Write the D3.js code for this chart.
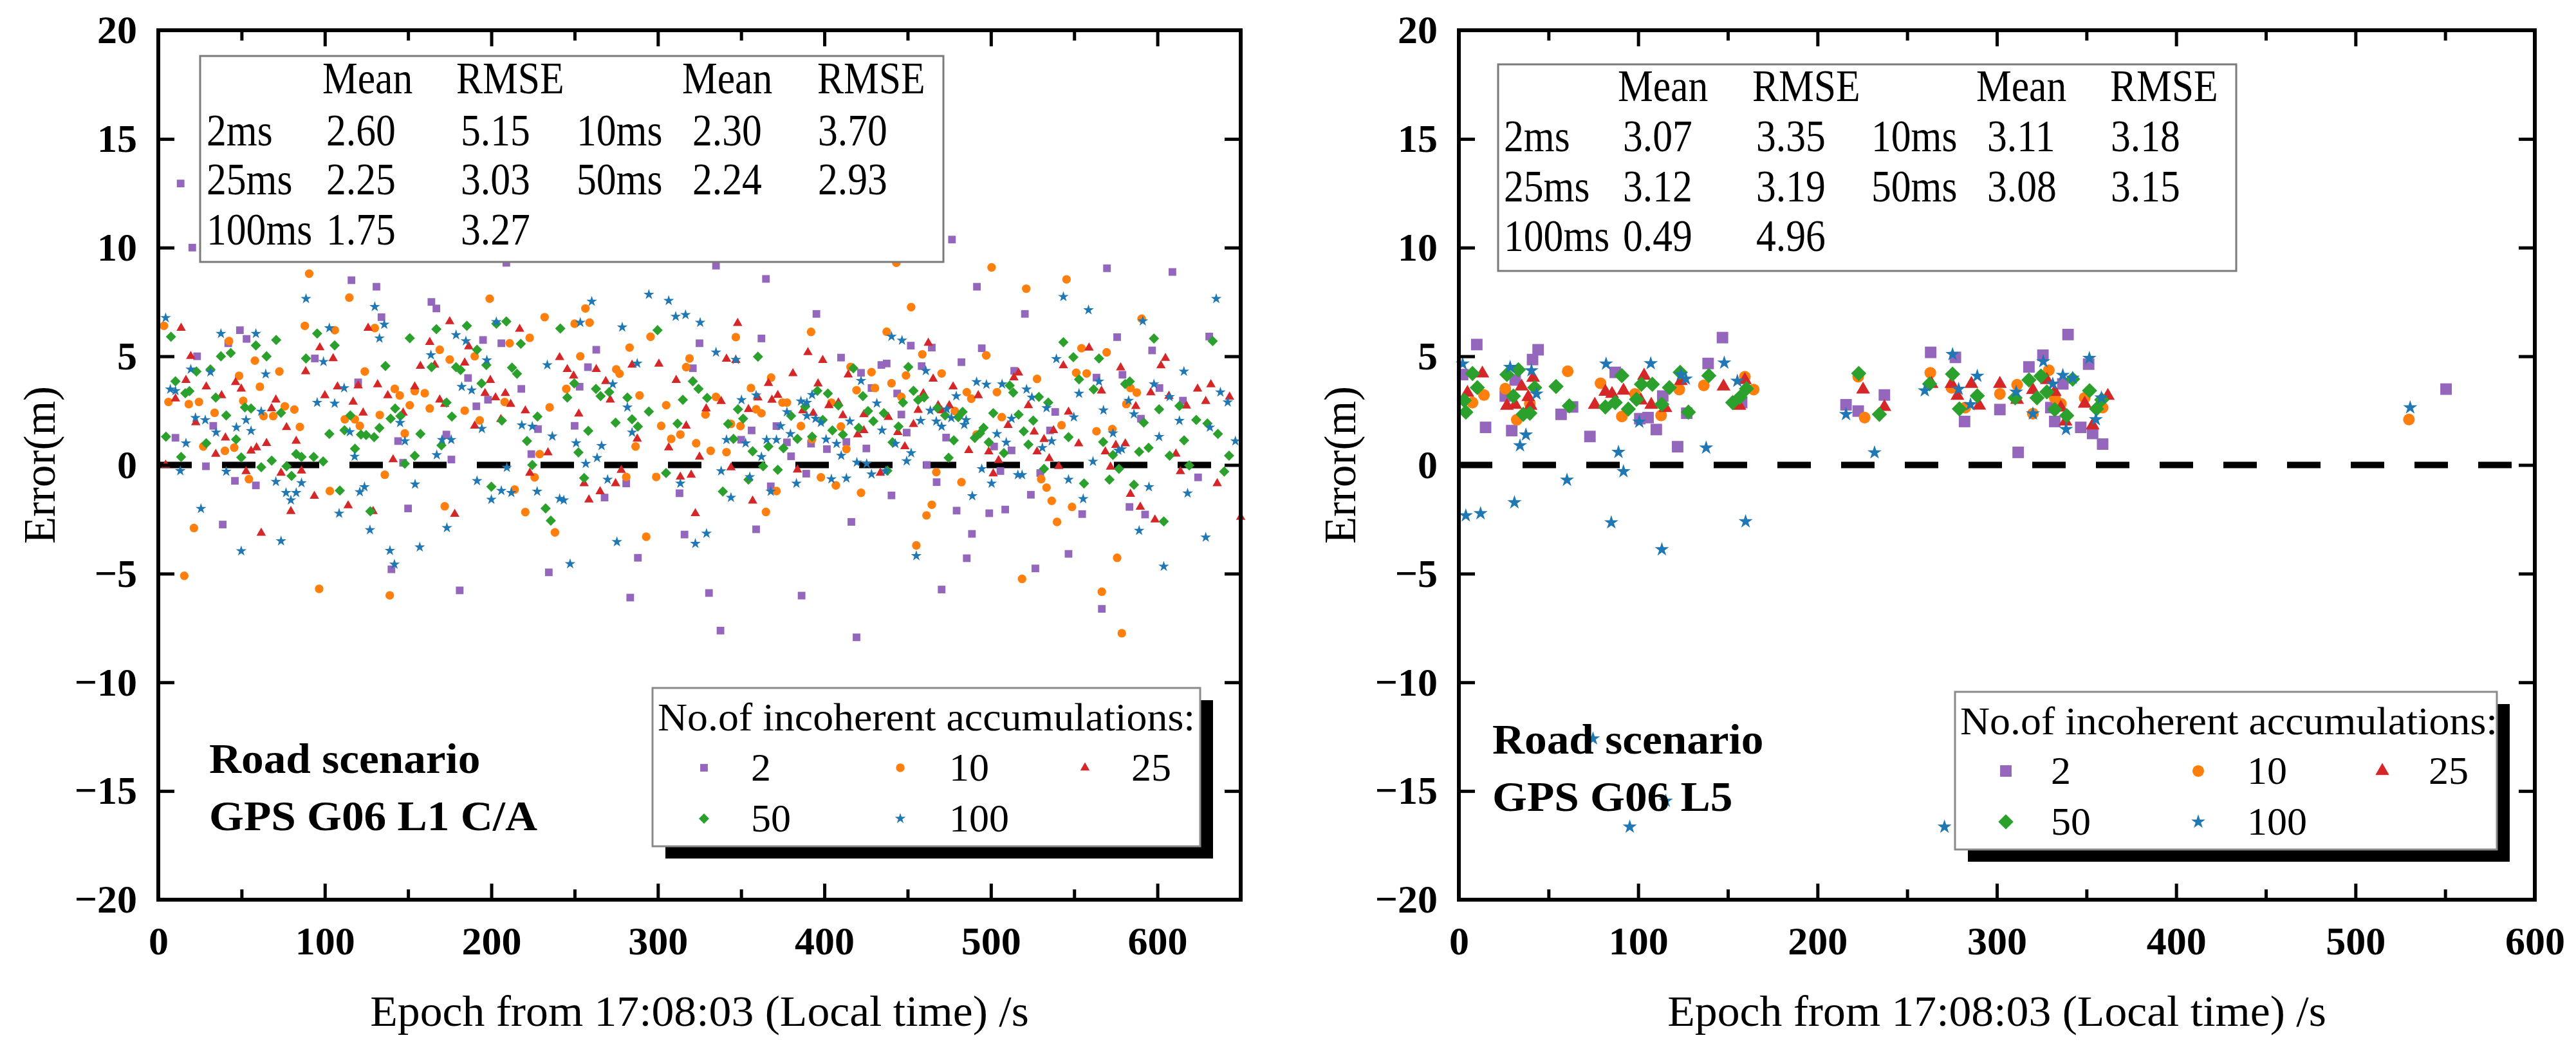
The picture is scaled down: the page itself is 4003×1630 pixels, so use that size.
<!DOCTYPE html>
<html>
<head>
<meta charset="utf-8">
<script src="https://cdn.jsdelivr.net/npm/d3@7"></script>
<style>
  body { margin: 0; background: #fff; }
</style>
</head>
<body>
<div id="chart"></div>
<script>
// ---- data: [epoch s, error m] ----
let seriesNames = ["2", "10", "25", "50", "100"];
let xTicksLeft = [0, 100, 200, 300, 400, 500, 600];
let xTicksRight = [0, 100, 200, 300, 400, 500, 600];
let yTicks = [-20, -15, -10, -5, 0, 5, 10, 15, 20];

// left panel, GPS G06 L1 C/A
let l1_2 = [[13.4,12.95],[20.4,10.0],[116,8.5],[131,8.2],[134,6.8],[164,7.5],[167,7.2],[49,6.2],[53,5.8],[42,5.6],[23.3,5.0],[195,5.75],[206,5.6],[209,9.3],[263,5.3],[258,4.5],[321,4.45],[325,5.6],[94,4.9],[120,3.8],[186,4.0],[218,3.5],[253,3.6],[191,2.7],[198,3.0],[33,1.8],[10.3,1.25],[144,1.1],[173,1.4],[228,1.65],[250,1.8],[224,0.5],[176,0.25],[147,0.1],[28.6,-0.06],[46,-0.73],[58.6,-0.94],[281,-0.85],[268,-1.5],[313,-1.3],[150,-2.0],[38.7,-2.74],[316,-3.2],[288,-4.27],[234.5,-4.94],[140,-4.8],[181,-5.77],[283.4,-6.1],
  [334.9,9.17],[364.9,8.56],[491.6,8.2],[569.7,9.05],[609,8.88],[520.4,6.95],[395.2,6.95],[362.2,5.82],[575.8,5.88],[596.8,5.27],[631.1,5.91],[451.9,5.49],[464.5,5.4],[494.5,5.37],[410,4.94],[434.2,4.6],[437.4,4.67],[458.4,4.55],[482.3,4.73],[422,4.24],[428.3,3.54],[514,4.33],[563.4,4.02],[579,4.15],[601.2,3.54],[615.3,2.96],[443.7,3.29],[446.2,2.32],[371.2,1.79],[356.3,1.59],[350,1.16],[449.4,1.49],[473.1,1.26],[538.6,2.44],[535.5,1.59],[590.1,2.13],[377.5,1.04],[392,0.98],[413.2,1.06],[401.5,0.73],[425.2,0.76],[380,0.4],[512.4,0.67],[501.9,0.85],[505.7,-0.28],[461.5,0],[529.6,-0.37],[389.1,-0.4],[367.8,-0.98],[467.4,-0.79],[440.3,-1.4],[524,-1.37],[624.4,-0.57],[583.2,-1.93],[592.6,-2.28],[554.8,-2.26],[479.4,-2.1],[499,-2.22],[508.6,-2.05],[416.2,-2.62],[359,-2.96],[488.6,-3.17],[485.5,-4.29],[546.6,-4.09],[526.7,-4.76],[470.4,-5.73],[330.7,-5.89],[386.3,-6.01],[566.6,-6.62],[337.6,-7.62],[419.3,-7.93],[476.6,10.37]];
let l1_10 = [[90.6,8.8],[114.7,7.7],[199,7.65],[88,6.4],[106,6.2],[130,6.3],[3.4,6.4],[42.5,5.7],[232,6.8],[250,6.5],[259,6.55],[256.5,7.2],[295.6,5.9],[283,5.4],[319,4.9],[317,4.5],[58,4.8],[48.5,4.1],[72.7,4.3],[124,4.3],[169,5.3],[175,4.85],[190,5.0],[223,5.85],[211,5.6],[253.4,5.0],[275,4.4],[277,4.2],[245,3.5],[289,3.2],[61,3.6],[6.1,2.9],[18.3,2.8],[24.4,2.9],[33.8,2.4],[51,2.95],[76,2.7],[81.7,2.55],[63.2,2.25],[69,2.25],[85,1.75],[112,2.1],[118,2.1],[121,1.8],[133,2.3],[142,3.5],[145,3.2],[154,3.4],[160,3.3],[151,2.75],[163,2.6],[184,2.5],[193,2.05],[208,2.9],[235,2.65],[305,2.75],[302,1.8],[308,1.2],[313.5,1.4],[323,1.0],[286.6,0.85],[148,1.45],[27,0.85],[40,0.65],[45.6,0.8],[229,0.5],[226,-0.57],[281,-0.55],[299,-0.55],[54.4,-0.65],[136,-0.45],[103,-1.2],[214,-1.13],[172,-1.9],[220.4,-2.17],[238.2,-3.1],[293,-3.3],[21.4,-2.9],[15.6,-5.1],[96.6,-5.7],[139,-6.0],
  [500.4,9.09],[545.4,8.54],[521.2,8.11],[452.1,7.26],[392,6.12],[346.8,5.88],[437.4,6.13],[458.8,5.09],[497.2,5.04],[590.5,6.73],[554.4,5.37],[551.2,4.24],[557.5,4.21],[569.5,5.18],[583.8,3.54],[587.6,3.33],[581.3,2.8],[470.4,4.21],[449,4.12],[440.3,3.76],[428.3,4.27],[430.4,3.54],[419.3,3.44],[415.7,4.51],[368,4.02],[355.9,3.54],[359,2.56],[362.2,2.38],[374.8,2.87],[377.5,2.87],[349.6,1.79],[343.9,1.89],[328.6,2.32],[334.9,3.13],[331.7,0.65],[341.2,0.59],[385.9,1.79],[392.6,1.18],[404.2,2.87],[409.9,1.77],[413.2,0.73],[446.2,3.13],[485.5,3.35],[488.2,3.05],[478.3,2.48],[503.6,3.35],[506.5,2.2],[491.4,1.4],[527.7,3.96],[542.4,1.83],[563.4,1.55],[572.9,1.65],[467.2,-0.33],[482.3,-0.79],[397.9,-0.57],[406.9,-0.94],[371.2,-1.2],[422,-1.28],[530.2,-0.65],[533.4,-1.04],[536.5,-1.65],[548.7,-1.93],[364.9,-2.16],[464.5,-1.83],[461.3,-2.32],[539.7,-2.62],[455.2,-3.7],[575.8,-4.27],[518.7,-5.24],[566.6,-5.83],[578.6,-7.74],[443.2,9.3]];
let l1_25 = [[13.7,6.3],[126,6.3],[175,6.6],[217,6.25],[97,5.4],[105,4.9],[19.5,5.0],[88.5,4.3],[163,5.65],[186.4,5.45],[184,4.7],[157.4,4.55],[166,4.6],[241,4.95],[245.6,4.4],[249.4,4.1],[263,4.4],[284.5,4.6],[300.6,4.65],[268.7,3.85],[271.4,3.0],[311,3.9],[16.6,3.9],[28.8,3.6],[46.4,3.8],[49.8,3.5],[10.3,3.05],[38,3.2],[70.6,3.0],[68,2.6],[100,3.2],[107.6,3.6],[120,3.65],[131.7,3.7],[137.8,3.2],[154,3.6],[117,2.9],[123,2.4],[147,2.4],[169,3.0],[172,2.8],[199.4,3.9],[196.2,3.3],[202.5,3.1],[208.4,3.3],[211.6,2.8],[220.4,2.5],[252.5,2.35],[317,1.8],[22.5,1.95],[40.3,1.25],[77,1.73],[82.8,1.1],[65,1.0],[59,0.8],[55.7,0.65],[34.5,0.5],[205.7,2.1],[190,1.8],[287.6,1.2],[306.5,0.8],[325,0.37],[234,0.57],[141,0.25],[4.4,0],[52.7,-0.3],[73.7,-0.37],[86,-0.27],[223.1,-0.37],[278,-0.24],[313.5,-0.55],[320,-0.46],[274.6,-0.85],[255.7,-0.85],[265.3,-1.22],[93.7,-1.43],[258.6,-1.6],[114,-1.87],[129,-2.13],[79.6,-2.13],[178,-2.26],[322.5,-2.23],[61.8,-3.13],
  [347.9,6.52],[390.1,5.18],[399,4.82],[341.2,4.88],[346.8,4.82],[462.4,5.61],[381.1,4.21],[414.3,4.15],[366.4,3.76],[372,3.21],[360.1,3.09],[368.5,2.99],[338,2.93],[329,2.59],[354.4,2.56],[396.2,3.74],[402.7,2.74],[408.4,2.87],[411.1,2.28],[387,2.5],[393.3,2.38],[423.7,2.32],[438.4,2.2],[420,1.4],[423.7,1.59],[459.4,3.29],[465.3,3.96],[477.3,3.6],[492.4,3.2],[456.3,2.52],[453.5,1.87],[448.3,0.85],[444.1,1.5],[468.3,2.74],[475,2.74],[470.4,2.5],[486.7,0.67],[498.7,0.61],[504.6,0.21],[501.4,-0.4],[510.3,1.83],[513.8,4.02],[516.6,4.24],[522.5,2.74],[526,1.52],[531.9,1.18],[527.7,0.61],[535,0.3],[537.6,1.59],[540.7,-0.06],[546.6,2.44],[552.7,0.98],[543.5,4.57],[558.9,5.39],[566.4,3.41],[568.7,0.61],[571.8,-0.09],[580.7,0.98],[575,0.91],[577.9,4.48],[587,2.7],[596,3.33],[602.1,4.57],[604.8,4.91],[606.9,3.17],[617.4,2.72],[611.1,0.51],[624.1,3.5],[629,2.93],[632.1,3.7],[643.3,3.13],[613.8,-0.3],[635.9,-0.85],[583.8,-1.34],[589.7,-1.93],[598.5,-2.52],[650,-2.4],[433.6,-0.37],[343.9,-0.12],[383.8,-0.22],[356.9,-1.65]];
let l1_50 = [[7.6,5.9],[95.4,6.05],[105.9,5.5],[58.6,5.5],[70.8,5.75],[37.6,5.0],[43.5,5.15],[65,5.0],[88.7,4.9],[22.9,4.3],[31.3,4.4],[10.3,3.85],[16.2,3.3],[18.7,3.4],[34.5,3.1],[40.8,2.28],[52,2.65],[55.7,2.6],[73.7,2.4],[46.7,1.18],[28.8,1.0],[4.6,1.3],[13.7,0.37],[49.8,0.35],[68.1,0.2],[61.8,-0.1],[80,-0.5],[82.8,0.5],[86,0.37],[93.3,0.37],[99,0.16],[77,-0.06],[136.4,4.55],[151,5.83],[167,6.25],[185.3,6.4],[203,6.5],[209,6.6],[191.4,5.3],[197,4.6],[164.1,4.5],[178.8,4.5],[181.5,4.37],[212.4,4.48],[215.4,4.2],[217.7,5.57],[241.4,6.28],[299.8,6.2],[194.1,3.75],[249.8,3.75],[262.8,3.5],[265.6,3.17],[270.8,3.35],[245.6,3.1],[281.7,3.1],[315,3.0],[321,3.85],[324.4,3.5],[173.1,2.87],[176.3,2.23],[142.2,2.6],[139.5,2.13],[145.4,2.25],[115.3,2.28],[132.8,1.7],[121.7,1.4],[124.8,1.38],[129.6,1.28],[102.7,1.43],[111.8,1.6],[157.4,1.43],[206.3,2.04],[227.7,2.23],[221.4,1.1],[274.6,1.95],[284.5,2.1],[288,1.77],[294.6,2.46],[258.2,1.57],[311.8,1.9],[252.3,0.58],[224.6,0],[154,0.42],[148,0.06],[118.1,0.75],[170,0.9],[304.9,-0.37],[255.7,-0.6],[200,-1.0],[109,-1.18],[127.3,-2.13],[232.6,-2.0],[235.7,-2.56],
  [329.6,3.09],[360.1,4.98],[348.1,2.56],[351.2,2.13],[342.2,1.89],[345.4,1.2],[356.9,0.63],[363.2,-0.06],[372,-0.22],[366.4,0.85],[375.4,0.77],[380,2.26],[383.8,1.2],[392.6,1.3],[388.4,2.68],[395.8,3.41],[402.1,3.29],[399,2.07],[404.8,1.59],[408.4,2.74],[411.1,1.4],[417.4,4.45],[423.1,3.17],[426.2,2.48],[429.4,2.01],[435.7,2.38],[420.6,1.71],[447.2,2.87],[450.4,4.51],[453.5,3.41],[456.3,2.99],[459.9,3.11],[444.5,1.77],[440.9,1.04],[437.8,-0.27],[467.8,2.62],[472.5,2.28],[474.6,0.33],[477.7,1.13],[483,2.44],[480.4,2.2],[490.3,1.24],[493.5,1.46],[495.6,1.71],[498.7,1.04],[501.4,2.38],[507.8,0.55],[511.3,3.66],[513.4,3.33],[516.6,2.32],[519.7,1.55],[522.5,0.94],[525.4,2.04],[528.8,3.13],[534.4,2.87],[531.9,-0.18],[543.5,5.65],[549.5,4.96],[552.9,3.94],[561.7,3.48],[564.9,4.9],[546.6,1.28],[555.9,-0.85],[567.4,1.06],[573.3,0.46],[576.9,-0.18],[571.2,-0.67],[580.6,3.72],[583.4,3.84],[585.9,-0.91],[589,0.61],[594.7,0.79],[591.8,1.95],[597.9,5.82],[601,2.56],[613.2,2.72],[616,1.13],[619.1,-0.02],[623.3,2.07],[630,1.91],[633.2,5.7],[636.3,1.43],[643,0.43],[640.1,-0.3],[607.3,0.43],[603.8,-2.6],[339,-1.22],[354.4,-0.67]];
let l1_100 = [[4.4,6.77],[88.7,7.65],[130,7.28],[135.7,6.46],[132.8,5.83],[102.7,6.3],[37.6,6.04],[58.6,6.04],[99.2,4.75],[64.5,4.18],[31.3,4.27],[19.5,4.4],[7.2,3.48],[10.3,3.41],[111.6,3.54],[95.4,2.87],[105.9,2.83],[61.8,2.46],[22.3,2.17],[28.2,2.07],[52.7,2.07],[46.9,1.73],[55.7,1.57],[34.7,1.5],[16.6,1.0],[115,1.52],[145.2,1.94],[148.1,1.1],[117.9,0.39],[163.7,5.06],[178.8,5.98],[184.7,5.7],[197.3,4.82],[203,6.58],[182.2,3.6],[188.2,3.44],[194.3,1.67],[170.4,1.16],[175.9,1.16],[167.2,0.46],[218.3,1.83],[224.6,1.77],[233.6,4.6],[236.6,1.32],[250.9,1.01],[266.2,0.88],[263.5,0.33],[253.4,6.55],[260.3,7.52],[278.6,6.34],[272.9,3.72],[287.6,4.67],[281.7,2.65],[284.5,1.5],[294.6,7.84],[306.5,7.56],[310.7,6.83],[316.6,6.91],[325.4,6.55],[256.7,0.06],[269.8,-0.67],[313.5,-0.85],[227.5,-1.22],[241,-1.55],[243.5,-1.62],[209.3,-0.12],[191.4,-0.73],[200,-1.59],[206,-1.18],[212,-1.28],[154.2,-0.89],[123.8,-1.01],[121,-1.24],[108.6,-2.23],[70.6,-0.77],[76.7,-1.28],[82.8,-1.28],[79.6,-1.62],[86,-0.83],[40.8,-0.3],[13.2,-0.27],[25.6,-2.01],[127.1,-2.99],[173.3,-2.89],[73.7,-3.5],[49.8,-3.96],[139.1,-3.94],[141.8,-4.57],[157,-3.78],[247.3,-4.55],[275.4,-3.54],[322.5,-3.62],
  [334.9,5.18],[346.8,4.84],[359,3.21],[350.2,2.99],[341.2,1.16],[352.7,1.0],[362.2,0.37],[365.3,1.16],[371.2,1.16],[373.7,1.79],[377.5,2.44],[379.6,1.43],[385.9,2.93],[389.5,2.87],[392.6,3.23],[389.5,2.26],[394.7,2.13],[397.9,1.95],[401,1.18],[407.3,0.98],[410.1,0.43],[415.3,2.01],[419.5,0.12],[425.4,0.06],[422,3.87],[428.3,-0.43],[436.8,-0.28],[431.5,2.84],[434.6,1.59],[440.3,5.91],[446.6,5.73],[442.6,0.98],[449.4,0.18],[452.1,0.55],[460.9,4.33],[457.8,2.04],[463.6,2.5],[467.2,2.01],[470.4,1.77],[473.5,2.56],[476.2,2.16],[479.2,3.17],[484,1.85],[485.1,2.07],[491.4,3.82],[497.3,3.7],[494.5,-0.18],[500.4,-0.85],[503.6,1.43],[506.7,3.72],[509.2,1.04],[512.4,2.13],[516.2,-0.46],[518.7,-0.46],[521.4,3.48],[524.6,3.11],[533.4,2.62],[536.5,1.1],[530.9,0.79],[539.3,4.88],[543.5,7.74],[558.6,7.13],[549.8,2.2],[552.9,3.29],[567.6,2.52],[564.9,3.84],[546.6,-0.67],[555.4,-1.56],[561.3,0.16],[573.3,1.46],[576.5,0.67],[578.6,0.73],[582.7,2.96],[585.9,2.34],[591.2,6.62],[597.9,3.72],[601,1.3],[607.3,3.13],[613.2,2.04],[615.9,4.3],[594.9,-1.01],[618.1,-1.3],[631.5,1.73],[635.3,7.65],[637.8,3.35],[642.2,2.89],[646.8,1.1],[589,-3.02],[603.8,-4.67],[629,-3.33],[455.2,-4.18],[488.8,-1.43],[338,-0.28],[343.9,-1.5],[355.2,-0.55],[367.8,-1.22],[383.2,-0.85],[404.2,-0.65],[413.2,-0.61],[329.2,-3.15]];

// right panel, GPS G06 L5
let l5_2 = [[10,5.54],[44.2,5.3],[41.1,4.85],[147,5.86],[139,4.67],[87.2,4.26],[2.1,4.16],[31.4,3.91],[25.9,3.17],[63.4,2.67],[57,2.33],[14.9,1.73],[29.5,1.58],[73.1,1.31],[110.1,1.63],[105.5,2.18],[100.9,2.13],[113.7,3.17],[122,0.84],[127.1,2.38],[157.7,2.87],[215.9,2.77],[222.7,2.48],[237.3,3.22],[263.1,5.18],[276.9,4.95],[282,2.0],[301.7,2.55],[311.9,0.58],[317.9,4.51],[325.7,5.05],[332.3,2.0],[330.1,2.64],[336.8,3.73],[339.7,6.0],[346.8,1.73],[351.2,4.64],[353.4,1.45],[359,0.96],[550.5,3.49]];
let l5_10 = [[60.7,4.31],[79,3.76],[14,3.22],[7.6,2.87],[25.9,3.51],[32.3,2.08],[39.6,2.82],[90.9,2.23],[98.2,3.27],[112.8,2.28],[122.9,3.47],[136.6,3.66],[159.5,4.06],[164.4,3.47],[222.7,4.06],[226.3,2.18],[262.9,4.24],[274.7,3.55],[282.4,2.64],[301.7,3.27],[311.3,3.69],[320.1,2.36],[329,4.36],[332.3,3.09],[335.7,2.82],[349,3.09],[359,2.64],[529.8,2.09]];
let l5_25 = [[13.1,4.21],[4.8,3.32],[26.8,2.72],[31.4,2.77],[35,3.61],[41.4,4.01],[38.7,3.12],[40,2.72],[75.8,2.77],[81.7,3.37],[85.4,3.27],[91.8,3.42],[103.3,4.11],[101.5,2.97],[107.3,2.77],[115.2,2.62],[123.8,3.86],[147.6,3.61],[156.4,2.72],[159.5,3.91],[225.4,3.47],[237.3,2.67],[263.6,3.73],[274.7,3.73],[278,3.18],[285.8,3.73],[290.2,2.73],[301.7,3.73],[311.3,3.0],[320.1,3.45],[327.9,3.91],[332.3,3.36],[335.7,2.64],[338.3,2.0],[349,2.82],[353.4,1.82],[361.9,3.18]];
let l5_50 = [[7.6,4.21],[10.3,3.56],[3,2.97],[3.9,2.43],[26.8,4.16],[33.2,4.38],[30.4,3.17],[35.9,2.33],[39.6,2.38],[42.3,3.56],[54.2,3.61],[61.6,2.72],[81.7,2.67],[87.2,2.87],[90.9,4.11],[94.5,2.57],[99.1,3.02],[101.8,3.71],[107.9,3.71],[113.2,2.79],[117.4,3.56],[123.4,4.26],[128,2.43],[139.4,4.11],[152.7,2.87],[156.8,3.12],[160.4,3.51],[223,4.21],[234.5,2.33],[262.5,3.73],[275.3,4.18],[279.1,2.58],[289.1,3.18],[310.2,3.09],[317.9,3.91],[322.4,3.09],[324.6,4.09],[327.9,3.36],[332.3,2.55],[339,2.27],[342.3,3.95],[351.7,3.42],[355.6,2.58],[358.5,3.0]];
let l5_100 = [[2.1,4.65],[28.6,4.5],[40.5,4.34],[43.3,3.27],[82.1,4.65],[107,4.67],[123.8,4.16],[126.6,3.96],[148,4.7],[155.3,3.86],[215.9,2.33],[100.6,1.98],[37.4,1.39],[34.1,0.89],[89,0.59],[137.9,0.79],[231.8,0.57],[91.8,-0.3],[60.3,-0.69],[31,-1.73],[3.9,-2.33],[12.1,-2.23],[85,-2.65],[159.9,-2.6],[113.2,-3.89],[74.8,-12.59],[115.4,-15.46],[95.3,-16.65],[270.8,-16.65],[259.8,3.42],[275.3,5.09],[278.7,3.49],[289.1,4.09],[285.3,2.78],[310.8,3.36],[320.1,2.36],[325.9,4.76],[331.2,3.73],[336.8,4.13],[342.3,4.0],[338.6,1.64],[351.6,4.91],[355.2,2.09],[358.3,3.09],[530.5,2.64]];

// statistics tables
let tableHeader = ["Mean", "RMSE", "Mean", "RMSE"];
let statsL1 = [["2ms", "2.60", "5.15", "10ms", "2.30", "3.70"],
               ["25ms", "2.25", "3.03", "50ms", "2.24", "2.93"],
               ["100ms", "1.75", "3.27"]];
let statsL5 = [["2ms", "3.07", "3.35", "10ms", "3.11", "3.18"],
               ["25ms", "3.12", "3.19", "50ms", "3.08", "3.15"],
               ["100ms", "0.49", "4.96"]];

// ---- drawing ----
let w = 4003;
let h = 1630;
let serif = "'Liberation Serif','Times New Roman',serif";
let colors = ["#9467bd", "#ff7f0e", "#d62728", "#2ca02c", "#1f77b4"];
let shapes = [d3.symbolSquare, d3.symbolCircle, d3.symbolTriangle, d3.symbolSquare, d3.symbolStar];
let rotations = [0, 0, 0, 45, 0];

let viz = d3.select("#chart")
  .append("svg")
  .attr("width", w)
  .attr("height", h)
  .style("display", "block");

viz.append("rect").attr("width", w).attr("height", h).attr("fill", "#fff");

function label(g, x, y, str, size, opts) {
  opts = opts || {};
  return g.append("text")
    .attr("transform", "translate(" + x + "," + y + ")" + (opts.rotate ? " rotate(" + opts.rotate + ")" : "") + " scale(" + (opts.sx || 1) + ",1)")
    .attr("font-family", serif)
    .attr("font-size", size)
    .attr("font-weight", opts.bold ? "bold" : "normal")
    .attr("text-anchor", opts.anchor || "start")
    .attr("fill", "#000")
    .text(str);
}

function drawPanel(p) {
  let g = viz.append("g");
  let xScale = d3.scaleLinear().domain([0, p.xMax]).range([p.left, p.right]);
  let yScale = d3.scaleLinear().domain([-20, 20]).range([p.bottom, p.top]);

  // zero line
  g.append("line")
    .attr("x1", p.left).attr("x2", p.right)
    .attr("y1", yScale(0)).attr("y2", yScale(0))
    .attr("stroke", "#000").attr("stroke-width", 10)
    .attr("stroke-dasharray", "52,47");

  // points, one group per accumulation count
  p.series.forEach(function (data, i) {
    let sym = d3.symbol().type(shapes[i]).size(p.sizes[i]);
    g.append("g").selectAll("path")
      .data(data)
      .enter()
      .append("path")
      .attr("d", sym)
      .attr("transform", function (d) {
        return "translate(" + xScale(d[0]) + "," + yScale(d[1]) + ") rotate(" + rotations[i] + ")";
      })
      .attr("fill", colors[i]);
  });

  // statistics table
  let t = p.table;
  g.append("rect")
    .attr("x", t.x).attr("y", t.y).attr("width", t.w).attr("height", t.h)
    .attr("fill", "#fff").attr("stroke", "#7a7a7a").attr("stroke-width", 3);
  [1, 2, 4, 5].forEach(function (c, k) {
    label(g, t.x + t.headCols[k], t.y + t.rows[0], tableHeader[k], 70, { sx: 0.88 });
  });
  p.stats.forEach(function (row, r) {
    row.forEach(function (cell, c) {
      label(g, t.x + t.cols[c], t.y + t.rows[r + 1], cell, 70, { sx: 0.88 });
    });
  });

  // legend
  let L = p.legend;
  g.append("rect")
    .attr("x", L.x + 20).attr("y", L.y + 19).attr("width", L.w).attr("height", L.h)
    .attr("fill", "#000");
  g.append("rect")
    .attr("x", L.x).attr("y", L.y).attr("width", L.w).attr("height", L.h)
    .attr("fill", "#fff").attr("stroke", "#8a8a8a").attr("stroke-width", 3);
  label(g, L.x + 8, L.y + 66, "No.of incoherent accumulations:", 62, { sx: 1.03 });
  seriesNames.forEach(function (name, i) {
    let col = i % 3, row = Math.floor(i / 3);
    let cy = L.y + L.rowY[row];
    let sym = d3.symbol().type(shapes[i]).size(p.sizes[i]);
    g.append("path")
      .attr("d", sym)
      .attr("transform", "translate(" + (L.x + L.markX[col]) + "," + cy + ") rotate(" + rotations[i] + ")")
      .attr("fill", colors[i]);
    label(g, L.x + L.textX[col], cy + 20, name, 62);
  });

  // scenario text
  label(g, p.note.x, p.note.y, "Road scenario", 66, { bold: true, sx: 1.05 });
  label(g, p.note.x, p.note.y + 89, p.note.signal, 66, { bold: true, sx: 1.05 });

  // axes: ticks point inward on all four sides
  let minorX = d3.range(50, p.xMax, 100);
  let axes = g.append("g");
  axes.append("g").attr("transform", "translate(0," + p.bottom + ")")
    .call(d3.axisBottom(xScale).tickValues(p.xTicks).tickSize(-25).tickPadding(41).tickSizeOuter(0));
  axes.append("g").attr("transform", "translate(0," + p.bottom + ")")
    .call(d3.axisBottom(xScale).tickValues(minorX).tickFormat("").tickSize(-16).tickSizeOuter(0));
  axes.append("g").attr("transform", "translate(0," + p.top + ")")
    .call(d3.axisTop(xScale).tickValues(p.xTicks).tickFormat("").tickSize(-25).tickSizeOuter(0));
  axes.append("g").attr("transform", "translate(0," + p.top + ")")
    .call(d3.axisTop(xScale).tickValues(minorX).tickFormat("").tickSize(-16).tickSizeOuter(0));
  axes.append("g").attr("transform", "translate(" + p.left + ",0)")
    .call(d3.axisLeft(yScale).tickValues(yTicks).tickSize(-25).tickPadding(33).tickSizeOuter(0));
  axes.append("g").attr("transform", "translate(" + p.right + ",0)")
    .call(d3.axisRight(yScale).tickValues(yTicks).tickFormat("").tickSize(-25).tickSizeOuter(0));

  axes.selectAll(".domain").remove();
  axes.selectAll(".tick line").attr("stroke", "#000").attr("stroke-width", 5);
  axes.selectAll("text")
    .attr("font-family", serif)
    .attr("font-size", 62)
    .attr("font-weight", "bold")
    .attr("fill", "#000");

  g.append("rect")
    .attr("x", p.left).attr("y", p.top)
    .attr("width", p.right - p.left).attr("height", p.bottom - p.top)
    .attr("fill", "none").attr("stroke", "#000").attr("stroke-width", 6);

  // axis titles
  label(g, (p.left + p.right) / 2, 1594, "Epoch from 17:08:03 (Local time) /s", 67, { anchor: "middle", sx: 1.04 });
  label(g, p.left - 161, (p.top + p.bottom) / 2, "Error(m)", 69, { anchor: "middle", rotate: -90 });
}

drawPanel({
  left: 246, right: 1928, top: 47, bottom: 1398, xMax: 650, xTicks: xTicksLeft,
  series: [l1_2, l1_10, l1_25, l1_50, l1_100],
  sizes: [140, 140, 92, 128, 85],
  stats: statsL1,
  table: { x: 311, y: 87, w: 1155, h: 320, rows: [58, 139, 215, 293],
           headCols: [190, 398, 749, 959], cols: [10, 196, 405, 585, 765, 960] },
  legend: { x: 1014, y: 1069, w: 851, h: 246, rowY: [124, 203], markX: [80, 385, 672], textX: [153, 461, 744] },
  note: { x: 325, y: 1201, signal: "GPS G06 L1 C/A" }
});

drawPanel({
  left: 2267, right: 3939, top: 47, bottom: 1398, xMax: 600, xTicks: xTicksRight,
  series: [l5_2, l5_10, l5_25, l5_50, l5_100],
  sizes: [320, 260, 200, 280, 150],
  stats: statsL5,
  table: { x: 2328, y: 100, w: 1147, h: 321, rows: [57, 135, 213, 290],
           headCols: [186, 395, 743, 951], cols: [9, 194, 401, 580, 760, 952] },
  legend: { x: 3038, y: 1075, w: 842, h: 245, rowY: [123, 202], markX: [79, 378, 664], textX: [149, 454, 736] },
  note: { x: 2319, y: 1171, signal: "GPS G06 L5" }
});
</script>
</body>
</html>
